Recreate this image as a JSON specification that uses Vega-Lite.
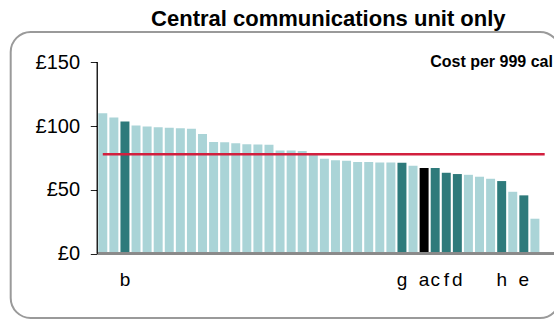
{
  "$schema": "https://vega.github.io/schema/vega-lite/v6.json",
  "autosize": "none",
  "padding": {"left": 10.7, "top": 32, "right": 0, "bottom": 2},
  "width": 549.3,
  "height": 286,
  "background": "white",
  "config": {
    "view": {"stroke": "#9a9a9a", "strokeWidth": 2, "cornerRadius": 20},
    "font": "Liberation Sans"
  },
  "title": {
    "text": "Central communications unit only",
    "font": "Liberation Sans",
    "fontSize": 22,
    "fontWeight": "bold",
    "color": "#000000",
    "anchor": "middle",
    "frame": "group",
    "baseline": "alphabetic",
    "offset": -16,
    "dx": 43
  },
  "data": {
    "values": [
      {"rank": 1, "cost": 110.0, "group": "other", "label": ""},
      {"rank": 2, "cost": 106.7, "group": "other", "label": ""},
      {"rank": 3, "cost": 103.6, "group": "named", "label": "b"},
      {"rank": 4, "cost": 100.5, "group": "other", "label": ""},
      {"rank": 5, "cost": 99.7, "group": "other", "label": ""},
      {"rank": 6, "cost": 99.1, "group": "other", "label": ""},
      {"rank": 7, "cost": 98.6, "group": "other", "label": ""},
      {"rank": 8, "cost": 98.3, "group": "other", "label": ""},
      {"rank": 9, "cost": 97.8, "group": "other", "label": ""},
      {"rank": 10, "cost": 93.7, "group": "other", "label": ""},
      {"rank": 11, "cost": 87.6, "group": "other", "label": ""},
      {"rank": 12, "cost": 87.4, "group": "other", "label": ""},
      {"rank": 13, "cost": 86.6, "group": "other", "label": ""},
      {"rank": 14, "cost": 85.8, "group": "other", "label": ""},
      {"rank": 15, "cost": 85.6, "group": "other", "label": ""},
      {"rank": 16, "cost": 85.3, "group": "other", "label": ""},
      {"rank": 17, "cost": 80.9, "group": "other", "label": ""},
      {"rank": 18, "cost": 80.9, "group": "other", "label": ""},
      {"rank": 19, "cost": 80.4, "group": "other", "label": ""},
      {"rank": 20, "cost": 77.5, "group": "other", "label": ""},
      {"rank": 21, "cost": 74.3, "group": "other", "label": ""},
      {"rank": 22, "cost": 73.3, "group": "other", "label": ""},
      {"rank": 23, "cost": 72.8, "group": "other", "label": ""},
      {"rank": 24, "cost": 71.8, "group": "other", "label": ""},
      {"rank": 25, "cost": 71.8, "group": "other", "label": ""},
      {"rank": 26, "cost": 71.5, "group": "other", "label": ""},
      {"rank": 27, "cost": 71.5, "group": "other", "label": ""},
      {"rank": 28, "cost": 71.2, "group": "named", "label": "g"},
      {"rank": 29, "cost": 68.9, "group": "other", "label": ""},
      {"rank": 30, "cost": 67.1, "group": "highlight", "label": "a"},
      {"rank": 31, "cost": 67.1, "group": "named", "label": "c"},
      {"rank": 32, "cost": 63.4, "group": "named", "label": "f"},
      {"rank": 33, "cost": 62.4, "group": "named", "label": "d"},
      {"rank": 34, "cost": 61.8, "group": "other", "label": ""},
      {"rank": 35, "cost": 60.3, "group": "other", "label": ""},
      {"rank": 36, "cost": 58.7, "group": "other", "label": ""},
      {"rank": 37, "cost": 56.9, "group": "named", "label": "h"},
      {"rank": 38, "cost": 48.5, "group": "other", "label": ""},
      {"rank": 39, "cost": 45.7, "group": "named", "label": "e"},
      {"rank": 40, "cost": 27.4, "group": "other", "label": ""}
    ]
  },
  "encoding": {
    "x": {
      "field": "rank",
      "type": "ordinal",
      "axis": null,
      "scale": {"range": [87.6, 528.7], "paddingInner": 0.19, "paddingOuter": 0, "align": 0}
    }
  },
  "layer": [
    {
      "mark": {"type": "bar"},
      "encoding": {
        "y": {
          "field": "cost",
          "type": "quantitative",
          "scale": {"domain": [-50.4, 173.7], "nice": false, "zero": false},
          "axis": {
            "values": [0, 50, 100, 150],
            "labelExpr": "'£' + datum.value",
            "domain": false,
            "grid": false,
            "ticks": true,
            "tickSize": 7,
            "tickColor": "#222222",
            "tickWidth": 1,
            "offset": -86.6,
            "labelFont": "Liberation Sans",
            "labelFontSize": 20,
            "labelColor": "#000000",
            "labelPadding": 10.7,
            "title": null
          }
        },
        "color": {
          "field": "group",
          "type": "nominal",
          "scale": {"domain": ["other", "named", "highlight"], "range": ["#aad4d7", "#2e7a7b", "#000000"]},
          "legend": null
        }
      }
    },
    {
      "mark": {"type": "rule", "color": "#8a8a8a", "strokeWidth": 2},
      "encoding": {
        "x": {"datum": 1, "type": "ordinal", "bandPosition": -0.1},
        "x2": {"datum": 40, "bandPosition": 2.6},
        "y": {"datum": 0, "type": "quantitative"}
      }
    },
    {
      "mark": {"type": "rule", "color": "#222222", "strokeWidth": 1},
      "encoding": {
        "x": {"datum": 1, "type": "ordinal", "bandPosition": -0.09},
        "y": {"datum": 0, "type": "quantitative"},
        "y2": {"datum": 150}
      }
    },
    {
      "data": {"values": [{"average": 78}]},
      "mark": {"type": "rule", "color": "#d21f3e", "strokeWidth": 2.5},
      "encoding": {
        "x": {"datum": 1, "type": "ordinal", "bandPosition": 0.5},
        "x2": {"datum": 40, "bandPosition": 1.59},
        "y": {"field": "average", "type": "quantitative"}
      }
    },
    {
      "transform": [{"filter": "datum.label != ''"}],
      "mark": {"type": "text", "font": "Liberation Sans", "fontSize": 19, "color": "#000000", "baseline": "alphabetic", "align": "center"},
      "encoding": {
        "y": {"datum": -25.3, "type": "quantitative"},
        "text": {"field": "label", "type": "nominal"}
      }
    },
    {
      "data": {"values": [{"note": "Cost per 999 cal"}]},
      "mark": {"type": "text", "font": "Liberation Sans", "fontSize": 16, "fontWeight": "bold", "color": "#000000", "baseline": "alphabetic", "align": "left"},
      "encoding": {
        "x": {"datum": 31, "type": "ordinal", "bandPosition": -0.06},
        "y": {"datum": 146.1, "type": "quantitative"},
        "text": {"field": "note", "type": "nominal"}
      }
    }
  ]
}
